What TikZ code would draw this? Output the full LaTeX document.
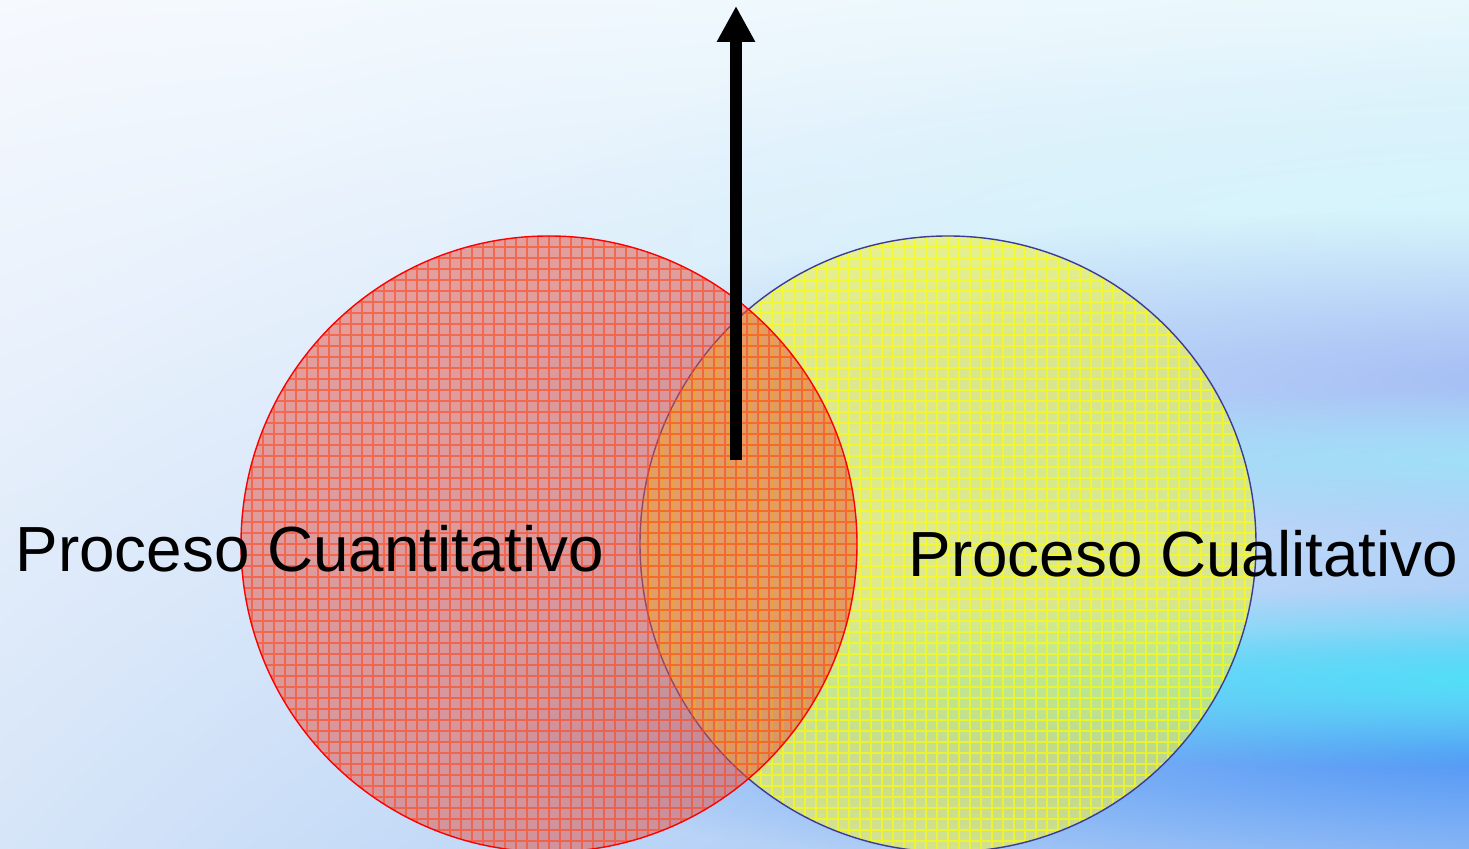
\documentclass[tikz,border=0pt]{standalone}
\usepackage{fontspec}
\setmainfont{Liberation Sans}
\usetikzlibrary{arrows.meta,fadings,shadings}

\definecolor{bgtl}{RGB}{246,249,254}
\definecolor{bgtr}{RGB}{232,248,252}
\definecolor{bgbl}{RGB}{214,229,248}
\definecolor{bgbr}{RGB}{150,190,245}
\definecolor{streakcyan}{RGB}{80,225,248}
\definecolor{streakblue}{RGB}{80,150,245}
\definecolor{streaklav}{RGB}{165,190,245}
\definecolor{streaklight}{RGB}{160,225,248}
\definecolor{streakwhite}{RGB}{215,247,252}
\definecolor{quantfill}{RGB}{228,80,65}
\definecolor{quantgrid}{RGB}{255,70,30}
\definecolor{cualfill}{RGB}{238,242,80}
\definecolor{cualgrid}{RGB}{255,255,0}
\definecolor{cualline}{RGB}{60,60,150}

\tikzfading[name=softband, inner color=transparent!0, outer color=transparent!100]

\tikzset{
  streak/.style={path fading=softband, fill=#1, draw=none},
  venn/.style={circle, minimum size=6.16cm, inner sep=0pt},
  label/.style={anchor=base west, inner sep=0pt, font=\fontsize{18.15}{20}\selectfont}
}

\begin{document}
\begin{tikzpicture}
\useasboundingbox (0,0) rectangle (14.69,8.49);
% background
\shade[upper left=bgtl, upper right=bgtr, lower left=bgbl, lower right=bgbr]
  (0,0) rectangle (14.69,8.49);
\path[streak=streakwhite] (4.5,4.1) rectangle (26.5,8.1);
\path[streak=streaklav] (4.5,3.0) rectangle (26.5,6.4);
\path[streak=streaklight] (6.5,3.2) rectangle (24.5,4.6);
\path[streak=streakblue] (4.5,-0.3) rectangle (26.5,2.2);
\path[streak=streakcyan] (4.5,0.8) rectangle (26.5,2.6);

% circles
\node[venn, draw=cualline, fill=cualfill, fill opacity=0.62,
  path picture={\draw[cualgrid, line width=0.3pt, draw opacity=0.65, step=0.11]
    (path picture bounding box.south west) grid (path picture bounding box.north east);}]
  (cual) at (9.48,3.05) {};
\node[venn, draw=red, fill=quantfill, fill opacity=0.5,
  path picture={\draw[quantgrid, line width=0.3pt, draw opacity=0.6, step=0.11]
    (path picture bounding box.south west) grid (path picture bounding box.north east);}]
  (quant) at (5.49,3.05) {};

% arrow
\coordinate (base) at (7.36,3.89);
\coordinate (tip) at (7.36,8.43);
\path[draw, line width=0.12cm, -{Triangle[width=0.36cm,length=0.36cm]}] (base) -- (tip);

% labels
\node[label] (quantlabel) at (0.15,2.77) {Proceso Cuantitativo};
\node[label] (cuallabel) at (9.08,2.72) {Proceso Cualitativo};
\end{tikzpicture}
\end{document}
